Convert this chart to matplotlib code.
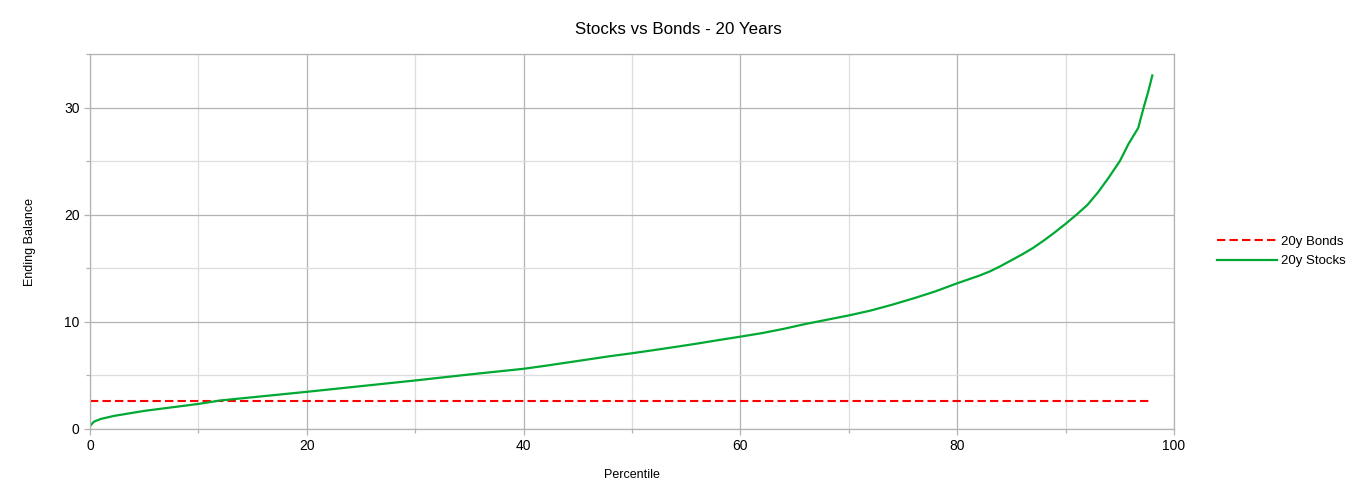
import matplotlib
matplotlib.use("Agg")
import matplotlib.pyplot as plt
from matplotlib.ticker import MultipleLocator

plt.rcParams['font.family'] = ['Liberation Sans', 'DejaVu Sans']

# Data
stocks_pct = [0, 0.37, 1, 2.2, 5, 10, 12, 20, 25, 30, 35, 40, 42, 44, 46, 48, 50, 52, 54, 56,
              58, 60, 62, 64, 66, 68, 70, 72, 74, 76, 78, 80, 81, 82, 83, 84, 85, 86, 87, 88,
              89, 90, 91, 92, 93, 94, 95, 95.8, 96.7, 97.2, 97.6, 98]
stocks_val = [0.28, 0.69, 0.94, 1.22, 1.69, 2.34, 2.66, 3.47, 4.0, 4.53, 5.09, 5.62, 5.9,
              6.2, 6.5, 6.8, 7.07, 7.36, 7.66, 7.97, 8.3, 8.62, 8.95, 9.35, 9.8, 10.2,
              10.6, 11.05, 11.6, 12.2, 12.85, 13.6, 13.95, 14.3, 14.7, 15.2, 15.75, 16.3,
              16.9, 17.6, 18.35, 19.15, 20.0, 20.9, 22.1, 23.5, 25.0, 26.6, 28.1, 30.0, 31.4, 33.0]
bonds_pct = [0, 98]
bonds_val = [2.65, 2.65]

fig = plt.figure(figsize=(13.57, 5.01), dpi=100)
ax = fig.add_axes([90/1357, 1-429/501, (1174-90)/1357, (429-54)/501])

ax.plot(bonds_pct, bonds_val, color='#ff0000', lw=1.5, ls=(0, (4, 2)), label='20y Bonds')
ax.plot(stocks_pct, stocks_val, color='#00a933', lw=1.6, label='20y Stocks')

ax.set_xlim(0, 100)
ax.set_ylim(0, 35)
ax.xaxis.set_major_locator(MultipleLocator(20))
ax.xaxis.set_minor_locator(MultipleLocator(10))
ax.yaxis.set_major_locator(MultipleLocator(10))
ax.yaxis.set_minor_locator(MultipleLocator(5))
ax.grid(which='major', color='#b3b3b3', lw=0.9)
ax.grid(which='minor', color='#dddddd', lw=0.9)
ax.set_axisbelow(True)
for s in ax.spines.values():
    s.set_color('#b3b3b3')
    s.set_linewidth(0.9)
ax.tick_params(which='both', color='#b3b3b3', length=4, width=0.9, labelsize=10, labelcolor='#000000')
ax.tick_params(which='minor', length=3)
ax.tick_params(axis='x', pad=3)

ax.set_xlabel('Percentile', fontsize=9, labelpad=11.5)
ax.set_ylabel('Ending Balance', fontsize=9, labelpad=20)
fig.text(0.5, 1-30/501, 'Stocks vs Bonds - 20 Years', ha='center', va='center', fontsize=12.2)

fig.legend(loc='center left', bbox_to_anchor=(1212/1357, 1-251.5/501), frameon=False,
           fontsize=9.5, handlelength=4.5, handletextpad=0.3, labelspacing=0.55, borderaxespad=0)

fig.savefig('out.png', dpi=100)
